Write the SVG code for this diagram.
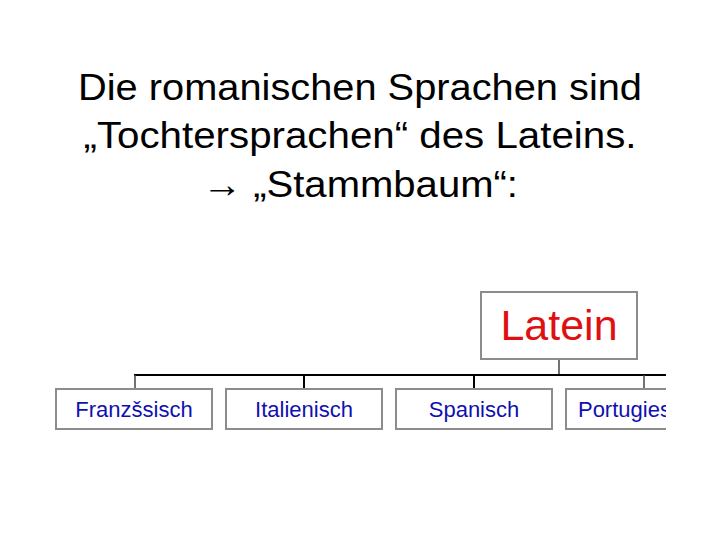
<svg xmlns="http://www.w3.org/2000/svg" width="720" height="540" viewBox="0 0 720 540">
<style>
.title{font-family:"Liberation Sans",Arial,sans-serif;font-size:37px;fill:#000;text-anchor:middle}
.box{fill:#fff;stroke:#8c8c8c;stroke-width:2}
.child{font-family:"Liberation Sans",Arial,sans-serif;font-size:22px;fill:#1010b0;text-anchor:middle}
.root{font-family:"Liberation Sans",Arial,sans-serif;font-size:43px;fill:#e01010;text-anchor:middle}
.conn{stroke:#000;stroke-width:2;fill:none}
.conn2{stroke:#444;stroke-width:1.5;fill:none}
</style>
<defs>
<clipPath id="clip"><rect x="0" y="0" width="666" height="540"/></clipPath>
</defs>
<rect width="720" height="540" fill="#fff"/>
<g id="title">
<text class="title" x="360" y="100" textLength="564" lengthAdjust="spacingAndGlyphs">Die romanischen Sprachen sind</text>
<text class="title" x="360" y="148" textLength="553" lengthAdjust="spacingAndGlyphs">„Tochtersprachen“ des Lateins.</text>
<text class="title" x="360" y="197" textLength="316" lengthAdjust="spacingAndGlyphs">→ „Stammbaum“:</text>
</g>
<g clip-path="url(#clip)">
<g id="connectors">
<line class="conn2" x1="559" y1="359" x2="559" y2="375"/>
<line class="conn" x1="134" y1="375" x2="666" y2="375"/>
<line class="conn2" x1="135" y1="375" x2="135" y2="389"/>
<line class="conn" x1="304" y1="375" x2="304" y2="389"/>
<line class="conn" x1="474" y1="375" x2="474" y2="389"/>
<line class="conn2" x1="644" y1="375" x2="644" y2="389"/>
</g>
<g id="latein">
<rect class="box" x="481" y="292" width="156" height="67"/>
<text class="root" x="559" y="340">Latein</text>
</g>
<g id="franzoesisch">
<rect class="box" x="56" y="389" width="156" height="40"/>
<text class="child" x="134" y="417">Franzšsisch</text>
</g>
<g id="italienisch">
<rect class="box" x="226" y="389" width="156" height="40"/>
<text class="child" x="304" y="417">Italienisch</text>
</g>
<g id="spanisch">
<rect class="box" x="396" y="389" width="156" height="40"/>
<text class="child" x="474" y="417">Spanisch</text>
</g>
<g id="portugiesisch">
<rect class="box" x="566" y="389" width="156" height="40"/>
<text class="child" x="644" y="417">Portugiesisch</text>
</g>
</g>
</svg>
